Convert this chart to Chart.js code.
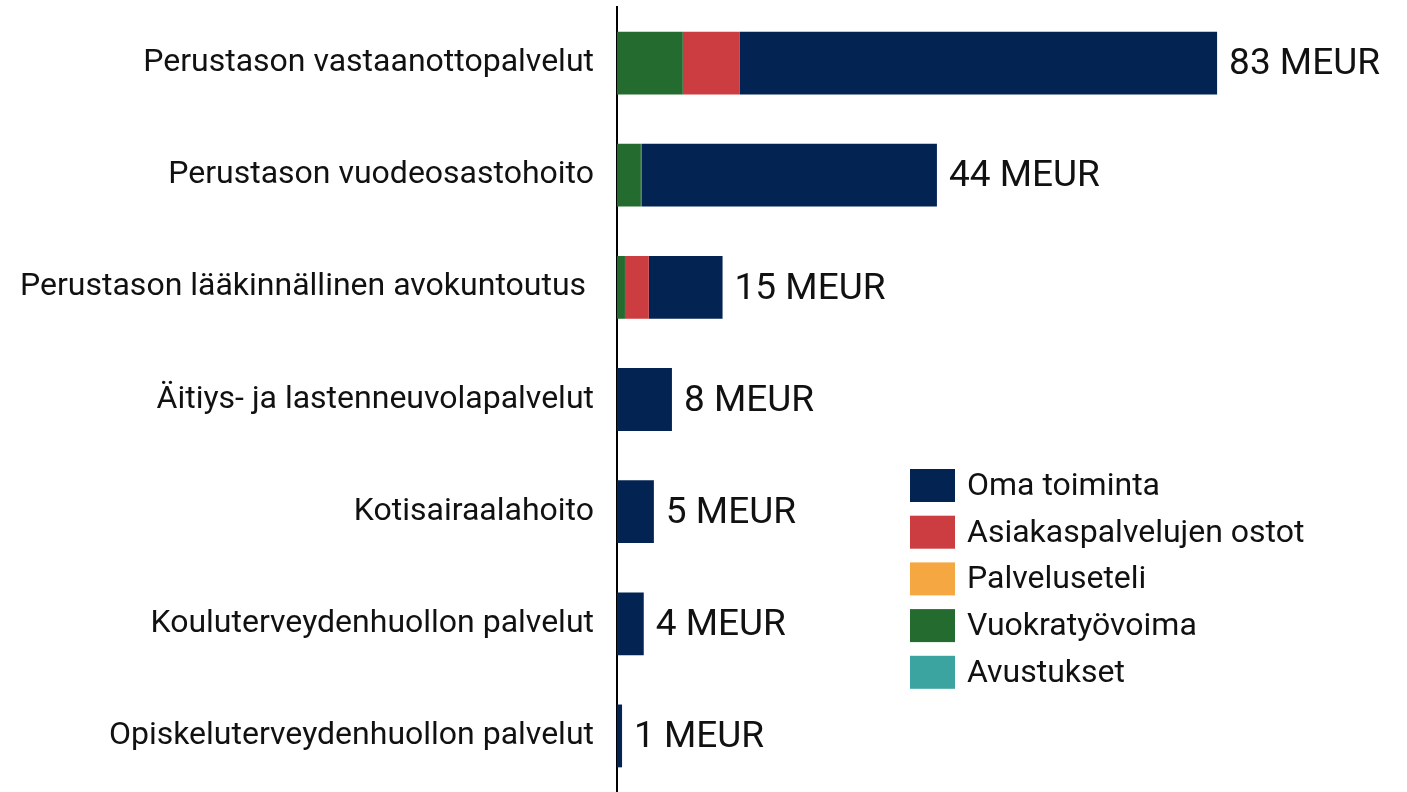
<!DOCTYPE html>
<html>
<head>
<meta charset="utf-8">
<script src="https://cdn.jsdelivr.net/npm/chart.js@4/dist/chart.umd.min.js"></script>
<style>
  html, body { margin: 0; padding: 0; background: #fff; }
  #wrap { width: 1407px; height: 792px; position: relative; }
</style>
</head>
<body>
<div id="wrap"><canvas id="costChart"></canvas></div>
<script>
  // categories, top to bottom
  const categories = [
    "Perustason vastaanottopalvelut",
    "Perustason vuodeosastohoito",
    "Perustason lääkinnällinen avokuntoutus ",
    "Äitiys- ja lastenneuvolapalvelut",
    "Kotisairaalahoito",
    "Kouluterveydenhuollon palvelut",
    "Opiskeluterveydenhuollon palvelut",
  ];

  // values in MEUR
  const vuokratyovoima = [9.1, 3.3, 1.1, 0, 0, 0, 0];
  const asiakaspalvelut = [7.9, 0.15, 3.3, 0, 0, 0, 0];
  const palveluseteli = [0, 0, 0, 0, 0, 0, 0];
  const avustukset = [0, 0, 0, 0, 0, 0, 0];
  const omaToiminta = [66.0, 40.8, 10.2, 7.6, 5.1, 3.7, 0.7];

  const legendOrder = ["Oma toiminta", "Asiakaspalvelujen ostot", "Palveluseteli", "Vuokratyövoima", "Avustukset"];

  const FONT = "Roboto";

  // value labels at the end of each bar
  const totalLabels = {
    id: "totalLabels",
    afterDatasetsDraw(chart) {
      const ctx = chart.ctx;
      const xs = chart.scales.x;
      const ys = chart.scales.y;
      ctx.save();
      ctx.font = "37px " + FONT;
      ctx.fillStyle = "#111";
      ctx.textAlign = "left";
      ctx.textBaseline = "middle";
      categories.forEach((c, i) => {
        let total = 0;
        chart.data.datasets.forEach(ds => { total += ds.data[i]; });
        const x = xs.getPixelForValue(total) + 12;
        const y = ys.getPixelForValue(i) + 2;
        ctx.fillText(Math.round(total) + " MEUR", x, y);
      });
      ctx.restore();
    }
  };

  // legend drawn inside the plot, lower right
  const boxLegend = {
    id: "boxLegend",
    afterDraw(chart) {
      const ctx = chart.ctx;
      ctx.save();
      ctx.font = "32px " + FONT;
      ctx.textBaseline = "middle";
      ctx.textAlign = "left";
      legendOrder.forEach((name, k) => {
        const ds = chart.data.datasets.find(d => d.label === name);
        const top = 469 + k * 46.7;
        ctx.fillStyle = ds.backgroundColor;
        ctx.fillRect(910, top, 45, 33);
        ctx.fillStyle = "#111";
        ctx.fillText(name, 967, top + 18);
      });
      ctx.restore();
    }
  };

  const ctx = document.getElementById("costChart");

  new Chart(ctx, {
    type: "bar",
    data: {
      labels: categories,
      datasets: [
        { label: "Vuokratyövoima", data: vuokratyovoima, backgroundColor: "#246b30" },
        { label: "Asiakaspalvelujen ostot", data: asiakaspalvelut, backgroundColor: "#cc3d41" },
        { label: "Palveluseteli", data: palveluseteli, backgroundColor: "#f5a742" },
        { label: "Avustukset", data: avustukset, backgroundColor: "#3ba3a0" },
        { label: "Oma toiminta", data: omaToiminta, backgroundColor: "#032352" },
      ],
    },
    options: {
      indexAxis: "y",
      responsive: true,
      maintainAspectRatio: false,
      animation: false,
      layout: { autoPadding: false, padding: { top: 7, right: 67, bottom: -3, left: 0 } },
      datasets: {
        bar: { barPercentage: 0.56, categoryPercentage: 1, borderWidth: 0 },
      },
      scales: {
        x: { stacked: true, display: false, min: 0, max: 100 },
        y: {
          stacked: true,
          afterFit(scale) {
            scale.width = 617;
            scale.paddingTop = 0;
            scale.paddingBottom = 0;
          },
          grid: { drawOnChartArea: false, drawTicks: false },
          border: { display: true, color: "#000", width: 2 },
          ticks: {
            color: "#111",
            padding: 23,
            font: { family: FONT, size: 32 },
          },
        },
      },
      plugins: {
        legend: { display: false },
        tooltip: { enabled: false },
      },
    },
    plugins: [totalLabels, boxLegend],
  });
</script>
</body>
</html>
